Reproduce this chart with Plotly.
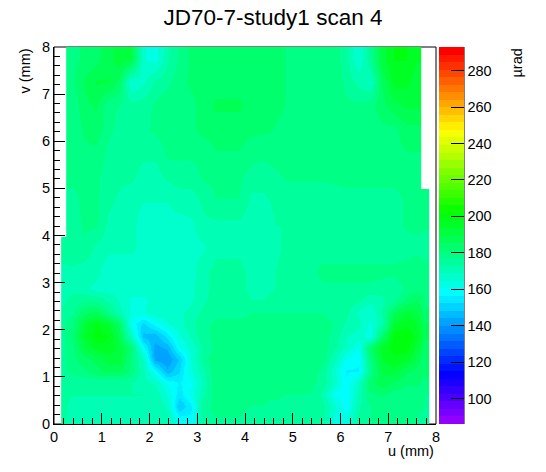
import colorsys
import plotly.graph_objects as go

TITLE = "JD70-7-study1 scan 4"
X_TITLE = "u (mm)"
Y_TITLE = "v (mm)"
Z_TITLE = "µrad"
Z_MIN = 86
Z_MAX = 293
N_COLORS = 50
X_TICKS = [0, 1, 2, 3, 4, 5, 6, 7, 8]
Y_TICKS = [0, 1, 2, 3, 4, 5, 6, 7, 8]
Z_TICKS = [100, 120, 140, 160, 180, 200, 220, 240, 260, 280]

nan = None

# bin edges of the map (mm)
U_EDGES = [0.15, 0.25, 0.5, 0.75, 1.0, 1.25, 1.5, 1.75, 2.0, 2.25, 2.5, 2.75, 3.0,
           3.25, 3.5, 3.75, 4.0, 4.25, 4.5, 4.75, 5.0, 5.25, 5.5, 5.75, 6.0,
           6.25, 6.5, 6.75, 7.0, 7.25, 7.5, 7.68, 7.85]
V_EDGES = [0.0, 0.25, 0.5, 0.75, 1.0, 1.25, 1.5, 1.75, 2.0, 2.25, 2.5, 2.75, 3.0,
           3.5, 4.0, 4.5, 5.0, 5.5, 6.0, 6.5, 7.0, 7.5, 8.0]

# deflection values (µrad), one row per v bin, bottom to top
ROW_00 = [174,172,172,172,172,172,172,172,172,170,158,157,176,177,177,177,176,176,176,175,175,175,174,164,163,174,177,178,178,178,177,176]
ROW_01 = [174,172,172,172,172,172,172,172,172,168,148,156,176,178,178,178,177,177,176,176,176,176,175,166,158,172,177,178,178,178,178,177]
ROW_02 = [174,173,173,173,173,173,173,173,172,164,154,162,172,179,180,180,179,178,178,177,177,177,172,160,157,170,180,182,179,178,178,177]
ROW_03 = [175,174,174,174,174,174,173,170,168,160,156,160,170,180,181,181,180,180,180,179,179,178,176,167,157,168,184,188,185,182,182,180]
ROW_04 = [176,178,180,184,186,186,180,170,158,145,152,164,172,180,181,181,180,181,181,180,180,179,176,166,156,156,178,190,192,186,184,182]
ROW_05 = [176,180,184,187,192,192,180,168,142,140,149,165,175,180,181,181,181,181,181,181,181,180,180,170,160,157,180,194,197,195,188,182]
ROW_06 = [176,180,190,196,196,192,182,158,142,145,160,166,174,178,179,179,180,180,180,180,180,180,180,174,168,160,184,196,200,200,192,184]
ROW_07 = [176,182,194,200,198,188,168,147,146,154,164,170,176,178,178,178,179,179,179,179,179,179,179,176,169,167,161,184,200,201,196,186]
ROW_08 = [176,180,192,198,194,184,160,151,158,164,167,172,176,178,178,178,178,178,178,178,178,178,178,177,172,170,164,172,194,197,194,186]
ROW_09 = [174,176,184,186,178,170,164,164,168,168,168,170,174,176,176,176,177,177,177,177,177,177,177,176,174,168,165,174,186,192,190,182]
ROW_10 = [172,174,176,176,172,168,164,164,166,166,167,168,172,175,175,175,173,173,174,176,176,176,176,176,176,174,170,172,176,182,186,180]
ROW_11 = [172,172,170,167,167,167,166,166,166,166,167,168,172,174,174,174,172,172,173,176,176,176,176,176,176,176,176,175,174,178,180,180]
ROW_12 = [172,172,171,170,166,165,165,165,165,165,166,167,172,174,174,174,172,172,173,176,176,176,178,178,178,178,178,178,178,179,180,180]
ROW_13 = [175,176,176,172,170,170,170,167,167,167,167,167,168,172,172,172,170,170,171,175,175,175,175,175,175,175,175,175,175,175,176,174]
ROW_14 = [nan,175,178,178,172,171,170,167,167,167,167,168,172,172,172,172,170,170,173,173,173,173,173,175,175,175,175,175,175,178,178,178]
ROW_15 = [nan,176,178,178,174,172,170,169,169,169,171,171,174,177,177,177,172,172,174,174,174,174,174,175,175,175,175,175,175,178,178,178]
ROW_16 = [nan,178,178,178,175,174,174,171,171,174,175,175,178,178,178,178,175,175,176,178,178,178,178,178,179,179,179,179,179,180,180,nan]
ROW_17 = [nan,180,180,180,176,175,175,174,174,178,178,178,178,181,181,181,179,178,179,180,180,180,180,180,180,180,180,180,180,181,181,nan]
ROW_18 = [nan,178,182,184,178,176,176,176,178,179,179,180,183,183,183,183,182,182,181,180,180,180,180,180,178,178,178,180,180,184,184,nan]
ROW_19 = [nan,178,184,186,178,177,175,175,178,180,180,180,183,186,186,186,184,184,182,181,181,181,181,181,178,178,180,184,188,190,190,nan]
ROW_20 = [nan,180,186,190,190,184,164,168,174,176,180,182,184,184,184,184,183,183,182,181,181,181,181,180,176,172,168,186,195,195,190,nan]
ROW_21 = [nan,180,182,184,188,192,190,165,163,172,178,182,183,183,183,183,184,184,182,181,181,181,181,180,174,165,176,192,198,198,194,nan]

Z_ROWS = [ROW_00, ROW_01, ROW_02, ROW_03, ROW_04, ROW_05, ROW_06, ROW_07,
          ROW_08, ROW_09, ROW_10, ROW_11, ROW_12, ROW_13, ROW_14, ROW_15,
          ROW_16, ROW_17, ROW_18, ROW_19, ROW_20, ROW_21]


def root_palette(n):
    """ROOT 'pretty' violet->red palette, as a stepped colorscale."""
    scale = []
    for i in range(n):
        hue = 280.0 - (i + 1) * 280.0 / n
        r, g, b = colorsys.hls_to_rgb(hue / 360.0, 0.5, 1.0)
        c = "rgb(%d,%d,%d)" % (round(r * 255), round(g * 255), round(b * 255))
        scale.append([i / n, c])
        scale.append([(i + 1) / n, c])
    return scale


FONT = "Liberation Sans, Arial, Helvetica, sans-serif"
W, H = 546, 472
ML, MR, MT, MB = 54, 110, 47, 48
PW = W - ML - MR
PH = H - MT - MB

fig = go.Figure()
fig.add_trace(go.Heatmap(
    x=U_EDGES, y=V_EDGES, z=Z_ROWS,
    zmin=Z_MIN, zmax=Z_MAX,
    zsmooth="best",
    colorscale=root_palette(N_COLORS),
    hoverongaps=False,
    colorbar=dict(
        x=(439 - ML) / PW, xanchor="left", xpad=0,
        y=0.5, yanchor="middle", ypad=0,
        len=1, lenmode="fraction",
        thickness=25, thicknessmode="pixels",
        outlinewidth=0,
        tickmode="array", tickvals=Z_TICKS,
        ticks="inside", ticklen=13, tickwidth=1, tickcolor="black",
        tickfont=dict(family=FONT, size=14.5, color="black"),
    ),
))

axis_common = dict(
    range=[0, 8], tickmode="array",
    ticks="inside", ticklen=11, tickwidth=1, tickcolor="black",
    minor=dict(ticks="inside", tickmode="linear", tick0=0, dtick=0.2,
               ticklen=6, tickwidth=1, tickcolor="black", showgrid=False),
    showline=True, linecolor="black", linewidth=1,
    showgrid=False, zeroline=False,
    tickfont=dict(family=FONT, size=14.5, color="black"),
)

fig.update_layout(
    width=W, height=H,
    margin=dict(l=ML, r=MR, t=MT, b=MB, autoexpand=False),
    paper_bgcolor="white", plot_bgcolor="white",
    font=dict(family=FONT, color="black"),
    title=dict(text=TITLE, x=0.5, xref="container", xanchor="center",
               y=1 - 17 / H, yanchor="middle",
               font=dict(family=FONT, size=22.5, color="black")),
    xaxis=dict(axis_common, tickvals=X_TICKS, automargin=False),
    yaxis=dict(axis_common, tickvals=Y_TICKS, automargin=False),
    shapes=[
        dict(type="rect", xref="paper", yref="paper", x0=0, x1=1, y0=0, y1=1,
             line=dict(color="black", width=1), layer="below"),
        dict(type="line", xref="paper", yref="paper",
             x0=(464 - ML) / PW, x1=(464 - ML) / PW, y0=0, y1=1,
             line=dict(color="black", width=1)),
    ],
    annotations=[
        dict(text=X_TITLE, xref="paper", yref="paper", x=1, xanchor="right",
             y=-(451 - (H - MB)) / PH, yanchor="middle", showarrow=False,
             font=dict(family=FONT, size=14.5, color="black")),
        dict(text=Y_TITLE, xref="paper", yref="paper", x=(24 - ML) / PW,
             xanchor="center", y=1, yanchor="top", textangle=-90,
             showarrow=False, font=dict(family=FONT, size=14.5, color="black")),
        dict(text=Z_TITLE, xref="paper", yref="paper", x=(516 - ML) / PW,
             xanchor="center", y=1, yanchor="top", textangle=-90,
             showarrow=False, font=dict(family=FONT, size=14.5, color="black")),
    ],
)

fig.write_html(
    "out.html",
    config={"displayModeBar": False},
    post_script="document.body.style.margin='0';document.body.style.overflow='hidden';",
)
